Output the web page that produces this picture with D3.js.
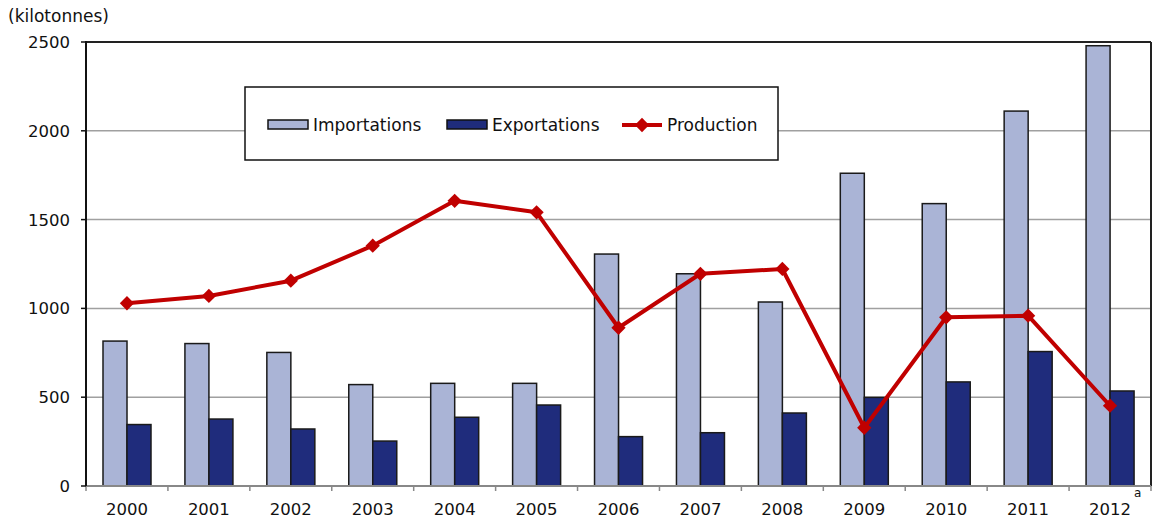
<!DOCTYPE html>
<html>
<head>
<meta charset="utf-8">
<script src="https://cdn.jsdelivr.net/npm/d3@7"></script>
<style>
  body { margin: 0; background: #fff; }
  svg { display: block; font-family: "DejaVu Sans", Verdana, sans-serif; }
</style>
</head>
<body>
<div id="chart"></div>
<script>
// data
var years = ["2000", "2001", "2002", "2003", "2004", "2005", "2006", "2007", "2008", "2009", "2010", "2011", "2012"];
var importations = [816, 802, 752, 571, 578, 578, 1306, 1195, 1036, 1761, 1590, 2111, 2479];
var exportations = [346, 377, 321, 253, 387, 456, 278, 300, 411, 499, 586, 757, 535];
var production = [1029, 1070, 1156, 1353, 1606, 1541, 891, 1195, 1222, 328, 950, 959, 452];
var yTicks = [0, 500, 1000, 1500, 2000, 2500];
var seriesNames = ["Importations", "Exportations", "Production"];

(function () {
  var W = 1153, H = 521;
  var mLeft = 86, mRight = 1151, mTop = 42, mBottom = 486;
  var impColor = "#aab4d6", expColor = "#1f2c7c", prodColor = "#c00000";

  var svg = d3.select("#chart").append("svg").attr("width", W).attr("height", H);

  var x = d3.scaleBand().domain(years).range([mLeft, mRight]).padding(0);
  var xs = d3.scaleBand().domain(["imp", "exp"]).range([17, 65]);
  var y = d3.scaleLinear().domain([0, 2500]).range([mBottom, mTop]);

  // gridlines
  svg.append("g").selectAll("line")
    .data(yTicks.filter(function (d) { return d > 0 && d < 2500; }))
    .enter().append("line")
    .attr("x1", mLeft).attr("x2", mRight)
    .attr("y1", function (d) { return y(d); })
    .attr("y2", function (d) { return y(d); })
    .attr("stroke", "#a0a0a0").attr("stroke-width", 1.5);

  // plot border top / right
  svg.append("line").attr("x1", mLeft).attr("x2", mRight).attr("y1", mTop).attr("y2", mTop)
    .attr("stroke", "#222").attr("stroke-width", 2);
  svg.append("line").attr("x1", mRight).attr("x2", mRight).attr("y1", mTop).attr("y2", mBottom)
    .attr("stroke", "#222").attr("stroke-width", 2);

  // bars
  var bars = svg.append("g");
  bars.selectAll("rect.imp").data(importations).enter().append("rect")
    .attr("class", "imp")
    .attr("x", function (d, i) { return x(years[i]) + xs("imp"); })
    .attr("y", function (d) { return y(d); })
    .attr("width", xs.bandwidth())
    .attr("height", function (d) { return mBottom - y(d); })
    .attr("fill", impColor).attr("stroke", "#1a1a1a").attr("stroke-width", 1.5);
  bars.selectAll("rect.exp").data(exportations).enter().append("rect")
    .attr("class", "exp")
    .attr("x", function (d, i) { return x(years[i]) + xs("exp"); })
    .attr("y", function (d) { return y(d); })
    .attr("width", xs.bandwidth())
    .attr("height", function (d) { return mBottom - y(d); })
    .attr("fill", expColor).attr("stroke", "#1a1a1a").attr("stroke-width", 1.5);

  // x axis
  var xAxis = svg.append("g").attr("transform", "translate(0," + mBottom + ")");
  xAxis.append("line").attr("x1", mLeft).attr("x2", mRight).attr("stroke", "#888").attr("stroke-width", 2);
  xAxis.selectAll("line.tick").data(years.concat(["end"])).enter().append("line")
    .attr("x1", function (d, i) { return mLeft + i * x.bandwidth(); })
    .attr("x2", function (d, i) { return mLeft + i * x.bandwidth(); })
    .attr("y1", 0).attr("y2", 5)
    .attr("stroke", "#888").attr("stroke-width", 1.5);
  xAxis.selectAll("text").data(years).enter().append("text")
    .attr("x", function (d) { return x(d) + x.bandwidth() / 2; })
    .attr("y", 29)
    .attr("text-anchor", "middle")
    .attr("font-size", 16.5).attr("fill", "#111")
    .text(function (d) { return d; });
  svg.append("text").attr("x", x("2012") + x.bandwidth() / 2 + 24).attr("y", 497)
    .attr("font-size", 12).attr("fill", "#111").text("a");

  // y axis
  var yAxis = svg.append("g");
  yAxis.append("line").attr("x1", mLeft).attr("x2", mLeft).attr("y1", mTop - 1).attr("y2", mBottom)
    .attr("stroke", "#111").attr("stroke-width", 2);
  yAxis.selectAll("line.tick").data(yTicks).enter().append("line")
    .attr("x1", mLeft - 5).attr("x2", mLeft)
    .attr("y1", function (d) { return y(d); })
    .attr("y2", function (d) { return y(d); })
    .attr("stroke", "#111").attr("stroke-width", 1.5);
  yAxis.selectAll("text").data(yTicks).enter().append("text")
    .attr("x", 70)
    .attr("y", function (d) { return y(d) + 6; })
    .attr("text-anchor", "end")
    .attr("font-size", 16.5).attr("fill", "#111")
    .text(function (d) { return d; });
  svg.append("text").attr("x", 8).attr("y", 22).attr("font-size", 17).attr("fill", "#111")
    .text("(kilotonnes)");

  // production line
  var line = d3.line()
    .x(function (d, i) { return x(years[i]) + x.bandwidth() / 2; })
    .y(function (d) { return y(d); });
  svg.append("path").datum(production)
    .attr("d", line)
    .attr("fill", "none").attr("stroke", prodColor).attr("stroke-width", 4)
    .attr("stroke-linejoin", "round");
  var diamond = d3.symbol().type(d3.symbolDiamond2).size(130);
  svg.append("g").selectAll("path").data(production).enter().append("path")
    .attr("d", diamond)
    .attr("transform", function (d, i) {
      return "translate(" + (x(years[i]) + x.bandwidth() / 2) + "," + y(d) + ")";
    })
    .attr("fill", prodColor);

  // legend
  var lg = svg.append("g");
  lg.append("rect").attr("x", 245).attr("y", 87).attr("width", 533).attr("height", 73)
    .attr("fill", "#fff").attr("stroke", "#111").attr("stroke-width", 1.5);
  lg.append("rect").attr("x", 268).attr("y", 120).attr("width", 40).attr("height", 9)
    .attr("fill", impColor).attr("stroke", "#111").attr("stroke-width", 1.5);
  lg.append("text").attr("x", 313).attr("y", 131).attr("font-size", 17).attr("fill", "#111").text(seriesNames[0]);
  lg.append("rect").attr("x", 447).attr("y", 120).attr("width", 40).attr("height", 9)
    .attr("fill", expColor).attr("stroke", "#111").attr("stroke-width", 1.5);
  lg.append("text").attr("x", 492).attr("y", 131).attr("font-size", 17).attr("fill", "#111").text(seriesNames[1]);
  lg.append("line").attr("x1", 622).attr("x2", 662).attr("y1", 125).attr("y2", 125)
    .attr("stroke", prodColor).attr("stroke-width", 4);
  lg.append("path").attr("d", diamond).attr("transform", "translate(642,125)").attr("fill", prodColor);
  lg.append("text").attr("x", 667).attr("y", 131).attr("font-size", 17).attr("fill", "#111").text(seriesNames[2]);
})();
</script>
</body>
</html>
